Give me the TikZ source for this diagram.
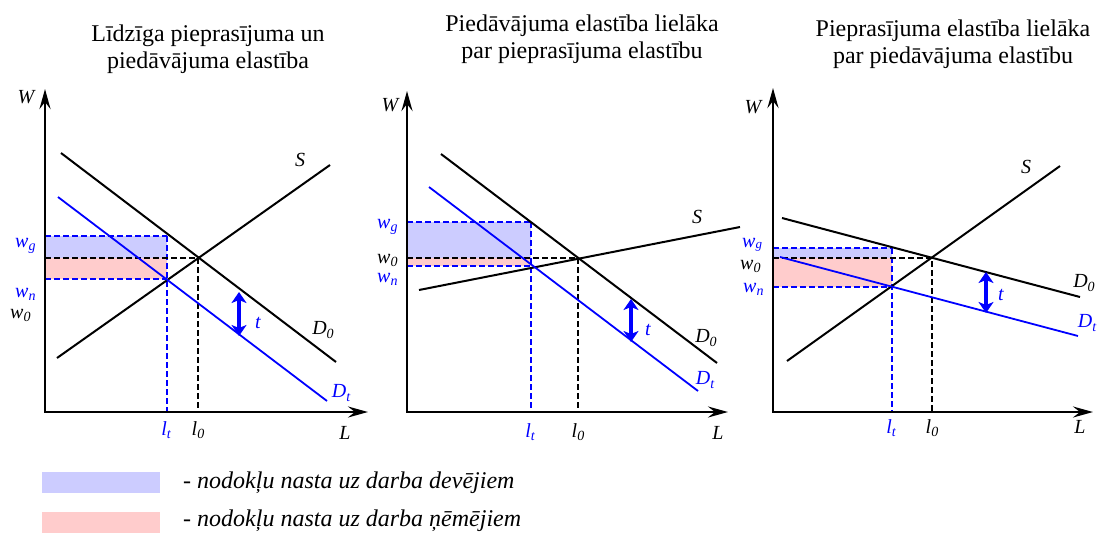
\documentclass[tikz,border=0pt]{standalone}
\usepackage{fontspec}
\setmainfont{Liberation Serif}
\usetikzlibrary{arrows.meta}
\newcommand{\sbs}[1]{\raisebox{-0.35ex}{\fontsize{14}{14}\selectfont\itshape #1}}
\definecolor{lblue}{RGB}{204,204,255}
\definecolor{lred}{RGB}{255,204,204}
\begin{document}
\begin{tikzpicture}[x=1pt,y=-1pt,
  axes/.style={line width=2.6pt,{Stealth[length=20pt,width=11pt,inset=7pt]}-{Stealth[length=20pt,width=11pt,inset=7pt]}},
  curve/.style={line width=2pt,black},
  bcurve/.style={line width=1.8pt,blue},
  bdash/.style={blue,line width=1.7pt,dash pattern=on 6pt off 3pt},
  kdash/.style={black,line width=1.7pt,dash pattern=on 6pt off 3pt},
  tarrow/.style={blue,line width=3.2pt,{Stealth[length=11pt,width=15pt,inset=3pt]}-{Stealth[length=11pt,width=15pt,inset=3pt]}},
  lab/.style={font=\fontsize{20}{20}\selectfont\itshape,inner sep=0pt},
  blab/.style={lab,text=blue},
  ttl/.style={font=\fontsize{24}{24}\selectfont,inner sep=0pt,anchor=base},
  legtxt/.style={font=\fontsize{24}{24}\selectfont\itshape,inner sep=0pt,anchor=base west},
  legbox/.style={minimum width=118pt,minimum height=21pt,inner sep=0pt,draw=none}]
\useasboundingbox (0,0) rectangle (1099,533);

% ---------- titles ----------
\node[ttl] (t1a) at (208,41) {Līdzīga pieprasījuma un};
\node[ttl] (t1b) at (208,68) {piedāvājuma elastība};
\node[ttl] (t2a) at (582,31) {Piedāvājuma elastība lielāka};
\node[ttl] (t2b) at (582,58) {par pieprasījuma elastību};
\node[ttl] (t3a) at (953,36) {Pieprasījuma elastība lielāka};
\node[ttl] (t3b) at (953,63) {par piedāvājuma elastību};

% ---------- panel 1 ----------
\fill[lblue] (45,236) rectangle (167,258);
\fill[lred] (45,258) rectangle (167,279);
\coordinate (a1g) at (45,236); \coordinate (p1g) at (167,236);
\coordinate (a1n) at (45,279); \coordinate (p1n) at (167,279);
\coordinate (b1t) at (167,412);
\coordinate (a1e) at (45,258); \coordinate (e1) at (198,258); \coordinate (b1e) at (198,412);
\draw[bdash] (a1g) -- (p1g);
\draw[bdash] (a1n) -- (p1n);
\draw[bdash] (p1g) -- (b1t);
\draw[kdash] (a1e) -- (e1) -- (b1e);
\coordinate (s1a) at (57,358); \coordinate (s1b) at (330,165);
\coordinate (d1a) at (61,153); \coordinate (d1b) at (336,362);
\coordinate (dt1a) at (58,197); \coordinate (dt1b) at (327,401);
\draw[curve] (s1a) -- (s1b);
\draw[curve] (d1a) -- (d1b);
\draw[bcurve] (dt1a) -- (dt1b);
\coordinate (y1) at (45,89); \coordinate (o1) at (45,412); \coordinate (x1) at (368,412);
\draw[axes] (y1) -- (o1) -- (x1);
\coordinate (ta1) at (239,292); \coordinate (tb1) at (239,336);
\draw[tarrow] (ta1) -- (tb1);
\node[blab] (lt1t) at (258,323) {t};
\node[lab] (lW1) at (26,97) {W};
\node[lab] (lS1) at (300,160) {S};
\node[lab] (lD1) at (323,330) {D\sbs{0}};
\node[blab] (lDt1) at (341,393) {D\sbs{t}};
\node[lab] (lL1) at (345,433) {L};
\node[blab] (llt1) at (166,430) {l\sbs{t}};
\node[lab] (ll01) at (198,430) {l\sbs{0}};
\node[blab,anchor=base west] (lwg1) at (15,247) {w\sbs{g}};
\node[blab,anchor=base west] (lwn1) at (15,297) {w\sbs{n}};
\node[lab,anchor=base west] (lw01) at (10,318) {w\sbs{0}};

% ---------- panel 2 ----------
\fill[lblue] (407,222) rectangle (531,258);
\fill[lred] (407,258) rectangle (531,266);
\coordinate (a2g) at (407,222); \coordinate (p2g) at (531,222);
\coordinate (a2n) at (407,266); \coordinate (p2n) at (531,266);
\coordinate (b2t) at (531,412);
\coordinate (a2e) at (407,258); \coordinate (e2) at (578,258); \coordinate (b2e) at (578,412);
\draw[bdash] (a2g) -- (p2g);
\draw[bdash] (a2n) -- (p2n);
\draw[bdash] (p2g) -- (b2t);
\draw[kdash] (a2e) -- (e2) -- (b2e);
\coordinate (s2a) at (419,290); \coordinate (s2b) at (740,227);
\coordinate (d2a) at (441,154); \coordinate (d2b) at (717,363);
\coordinate (dt2a) at (429,187); \coordinate (dt2b) at (698,391);
\draw[curve] (s2a) -- (s2b);
\draw[curve] (d2a) -- (d2b);
\draw[bcurve] (dt2a) -- (dt2b);
\coordinate (y2) at (407,91); \coordinate (o2) at (407,412); \coordinate (x2) at (728,412);
\draw[axes] (y2) -- (o2) -- (x2);
\coordinate (ta2) at (631,299); \coordinate (tb2) at (631,342);
\draw[tarrow] (ta2) -- (tb2);
\node[blab] (lt2t) at (648,330) {t};
\node[lab] (lW2) at (390,105) {W};
\node[lab] (lS2) at (697,217) {S};
\node[lab] (lD2) at (706,338) {D\sbs{0}};
\node[blab] (lDt2) at (705,380) {D\sbs{t}};
\node[lab] (lL2) at (718,433) {L};
\node[blab] (llt2) at (530,432) {l\sbs{t}};
\node[lab] (ll02) at (578,432) {l\sbs{0}};
\node[blab,anchor=base west] (lwg2) at (377,228) {w\sbs{g}};
\node[lab,anchor=base west] (lw02) at (377,263) {w\sbs{0}};
\node[blab,anchor=base west] (lwn2) at (377,282) {w\sbs{n}};

% ---------- panel 3 ----------
\fill[lblue] (773,248) rectangle (892,258);
\fill[lred] (773,258) rectangle (892,287);
\coordinate (a3g) at (773,248); \coordinate (p3g) at (892,248);
\coordinate (a3n) at (773,287); \coordinate (p3n) at (892,287);
\coordinate (b3t) at (892,412);
\coordinate (a3e) at (773,258); \coordinate (e3) at (932,258); \coordinate (b3e) at (932,412);
\draw[bdash] (a3g) -- (p3g);
\draw[bdash] (a3n) -- (p3n);
\draw[bdash] (p3g) -- (b3t);
\draw[kdash] (a3e) -- (e3) -- (b3e);
\coordinate (s3a) at (787,361); \coordinate (s3b) at (1060,166);
\coordinate (d3a) at (782,218); \coordinate (d3b) at (1080,297);
\coordinate (dt3a) at (780,257); \coordinate (dt3b) at (1078,336);
\draw[curve] (s3a) -- (s3b);
\draw[curve] (d3a) -- (d3b);
\draw[bcurve] (dt3a) -- (dt3b);
\coordinate (y3) at (773,88); \coordinate (o3) at (773,412); \coordinate (x3) at (1093,412);
\draw[axes] (y3) -- (o3) -- (x3);
\coordinate (ta3) at (986,272); \coordinate (tb3) at (986,313);
\draw[tarrow] (ta3) -- (tb3);
\node[blab] (lt3t) at (1001,295) {t};
\node[lab] (lW3) at (753,107) {W};
\node[lab] (lS3) at (1026,167) {S};
\node[lab] (lD3) at (1084,283) {D\sbs{0}};
\node[blab] (lDt3) at (1087,323) {D\sbs{t}};
\node[lab] (lL3) at (1080,427) {L};
\node[blab] (llt3) at (891,428) {l\sbs{t}};
\node[lab] (ll03) at (932,428) {l\sbs{0}};
\node[blab,anchor=base west] (lwg3) at (742,247) {w\raisebox{-0.2ex}{\fontsize{13}{13}\selectfont\itshape g}};
\node[lab,anchor=base west] (lw03) at (740,269) {w\sbs{0}};
\node[blab,anchor=base west] (lwn3) at (743,292) {w\sbs{n}};

% ---------- legend ----------
\node[legbox,fill=lblue] (leg1) at (101,482.5) {};
\node[legbox,fill=lred] (leg2) at (101,522.5) {};
\node[legtxt] (legt1) at (183,488) {- nodokļu nasta uz darba devējiem};
\node[legtxt] (legt2) at (183,526) {- nodokļu nasta uz darba ņēmējiem};
\end{tikzpicture}
\end{document}
